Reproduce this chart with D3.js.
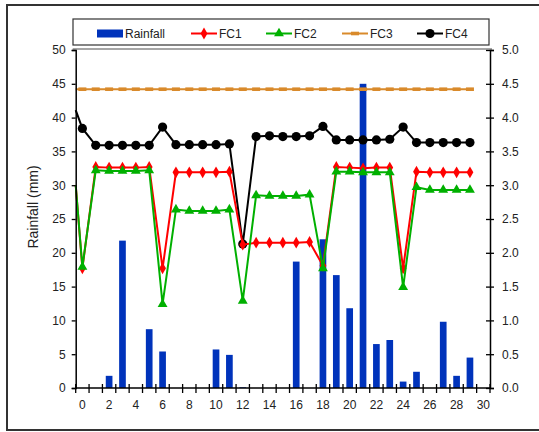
<!DOCTYPE html>
<html><head><meta charset="utf-8">
<script src="https://cdn.jsdelivr.net/npm/d3@7"></script>
<style>
body{margin:0;background:#fff;}
svg{display:block;font-family:"Liberation Sans",Arial,sans-serif;}
</style></head>
<body><svg id="c" width="539" height="432"></svg>
<script>
const days = d3.range(0, 31);
const xTickLabels = [0,2,4,6,8,10,12,14,16,18,20,22,24,26,28,30];
const leftTicks = [0,5,10,15,20,25,30,35,40,45,50];
const rightTicks = [0,0.5,1,1.5,2,2.5,3,3.5,4,4.5,5];
const rainfall = [0,0,1.8,21.8,0,8.7,5.4,0,0,0,5.7,4.9,0.1,0,0,0,18.7,0,22.0,16.7,11.8,45.0,6.5,7.1,0.95,2.4,0,9.8,1.8,4.5,0];
const lineDays = d3.range(0, 30);
const fc1 = [1.77,3.27,3.26,3.26,3.26,3.27,1.77,3.19,3.19,3.19,3.19,3.20,2.12,2.15,2.15,2.15,2.15,2.16,1.81,3.27,3.26,3.25,3.26,3.26,1.77,3.20,3.19,3.19,3.19,3.19];
const fc2 = [1.79,3.22,3.21,3.21,3.21,3.22,1.24,2.64,2.62,2.62,2.62,2.64,1.29,2.85,2.84,2.84,2.84,2.86,1.77,3.20,3.20,3.19,3.19,3.19,1.49,2.97,2.93,2.93,2.93,2.93];
const fc3 = lineDays.map(() => 4.42);
const fc4 = [3.84,3.59,3.59,3.59,3.59,3.59,3.86,3.60,3.60,3.60,3.60,3.61,2.13,3.72,3.73,3.72,3.72,3.73,3.87,3.67,3.67,3.67,3.67,3.68,3.86,3.63,3.63,3.63,3.63,3.63];
// values at the left edge of the plot (line start, no marker)
const startVals = {FC1: 3.0, FC2: 3.0, FC3: 4.42, FC4: 4.11};

const svg = d3.select("#c");
const L = 75.7, R = 490, T = 50, B = 388;
const x = d3.scaleBand().domain(days).range([L, R]);
const cx = d => x(d) + x.bandwidth()/2;
const yL = d3.scaleLinear().domain([0,50]).range([B,T]);
const yR = d3.scaleLinear().domain([0,5]).range([B,T]);

// outer frame
svg.append("rect").attr("x",7).attr("y",5).attr("width",540).attr("height",425)
  .attr("fill","none").attr("stroke","#333").attr("stroke-width",2);

// plot top border
svg.append("line").attr("x1",L-3).attr("x2",R+2).attr("y1",T-1).attr("y2",T-1)
  .attr("stroke","#888").attr("stroke-width",1.5);

// bars
svg.append("g").selectAll("rect").data(rainfall).join("rect")
  .attr("x",(d,i)=>cx(days[i]) - x.bandwidth()*0.25)
  .attr("width",x.bandwidth()*0.5)
  .attr("y",d=>yL(d)).attr("height",d=>B-yL(d))
  .attr("fill","#0033bb");

// lines
const series = [
  {name:"FC1", vals:fc1, color:"#ff0000", marker:"diamond"},
  {name:"FC2", vals:fc2, color:"#00b000", marker:"triangle"},
  {name:"FC3", vals:fc3, color:"#d98a2b", marker:"dash"},
  {name:"FC4", vals:fc4, color:"#000000", marker:"circle"}
];
const drawOrder = ["FC3","FC4","FC1","FC2"];
function marker(g, type, color, px, py){
  if(type==="diamond") g.append("path").attr("d",d3.symbol(d3.symbolDiamond,40)()).attr("transform",`translate(${px},${py})`).attr("fill",color);
  else if(type==="triangle") g.append("path").attr("d",d3.symbol(d3.symbolTriangle,42)()).attr("transform",`translate(${px},${py})`).attr("fill",color);
  else if(type==="circle") g.append("circle").attr("cx",px).attr("cy",py).attr("r",4.6).attr("fill",color);
  else if(type==="dash") g.append("rect").attr("x",px-4).attr("y",py-1.8).attr("width",8).attr("height",3.6).attr("fill",color);
}
drawOrder.forEach(n=>{
  const s = series.find(v=>v.name===n);
  const pts = [[L, yR(startVals[n])]].concat(s.vals.map((v,i)=>[cx(lineDays[i]), yR(v)]));
  const g = svg.append("g");
  g.append("path").attr("d",d3.line()(pts)).attr("fill","none").attr("stroke",s.color).attr("stroke-width",2);
  s.vals.forEach((v,i)=>marker(g,s.marker,s.color,cx(lineDays[i]),yR(v)));
});

// axes
const axL = svg.append("g").attr("transform",`translate(${L},0)`)
  .call(d3.axisLeft(yL).tickValues(leftTicks).tickSize(4).tickPadding(6));
const axR = svg.append("g").attr("transform",`translate(${R},0)`)
  .call(d3.axisRight(yR).tickValues(rightTicks).tickFormat(d3.format(".1f")).tickSize(4).tickPadding(8));
axR.selectAll(".tick line").attr("x1",-4);
const axB = svg.append("g").attr("transform",`translate(0,${B})`)
  .call(d3.axisBottom(x).tickValues(xTickLabels).tickSize(0).tickPadding(12));
// category boundary ticks
svg.append("g").selectAll("line").data(days.concat([31])).join("line")
  .attr("x1",d=>L + d*x.step()).attr("x2",d=>L + d*x.step())
  .attr("y1",B-4).attr("y2",B+5).attr("stroke","#000").attr("stroke-width",1.3);
[axL,axR,axB].forEach(a=>{
  a.select(".domain").attr("stroke","#000").attr("stroke-width",1.5);
  a.selectAll(".tick line").attr("stroke","#000").attr("stroke-width",1.3);
  a.selectAll("text").attr("font-size",12).attr("fill","#222").attr("font-family","Liberation Sans, Arial, sans-serif");
});
axB.select(".domain").attr("d",`M${L},0H${R}`);

// y label
svg.append("text").attr("transform","translate(38,207) rotate(-90)").attr("text-anchor","middle")
  .attr("font-size",14).attr("fill","#222").text("Rainfall (mm)");

// legend
const lg = svg.append("g");
lg.append("rect").attr("x",73).attr("y",19).attr("width",416).attr("height",26)
  .attr("fill","#fff").attr("stroke","#333").attr("stroke-width",1.2);
const legItems = [
  {name:"Rainfall", x:97, type:"bar", color:"#0033bb"},
  {name:"FC1", x:191, type:"diamond", color:"#ff0000"},
  {name:"FC2", x:266, type:"triangle", color:"#00b000"},
  {name:"FC3", x:342, type:"dash", color:"#d98a2b"},
  {name:"FC4", x:417, type:"circle", color:"#000000"}
];
legItems.forEach(it=>{
  const ly = 33.5;
  if(it.type==="bar") lg.append("rect").attr("x",it.x).attr("y",ly-4).attr("width",26).attr("height",8).attr("fill",it.color);
  else {
    lg.append("line").attr("x1",it.x).attr("x2",it.x+26).attr("y1",ly).attr("y2",ly).attr("stroke",it.color).attr("stroke-width",2);
    marker(lg,it.type,it.color,it.x+13,ly);
  }
  lg.append("text").attr("x",it.x+28).attr("y",ly+4.5).attr("font-size",12).attr("fill","#222").text(it.name);
});
</script></body></html>
